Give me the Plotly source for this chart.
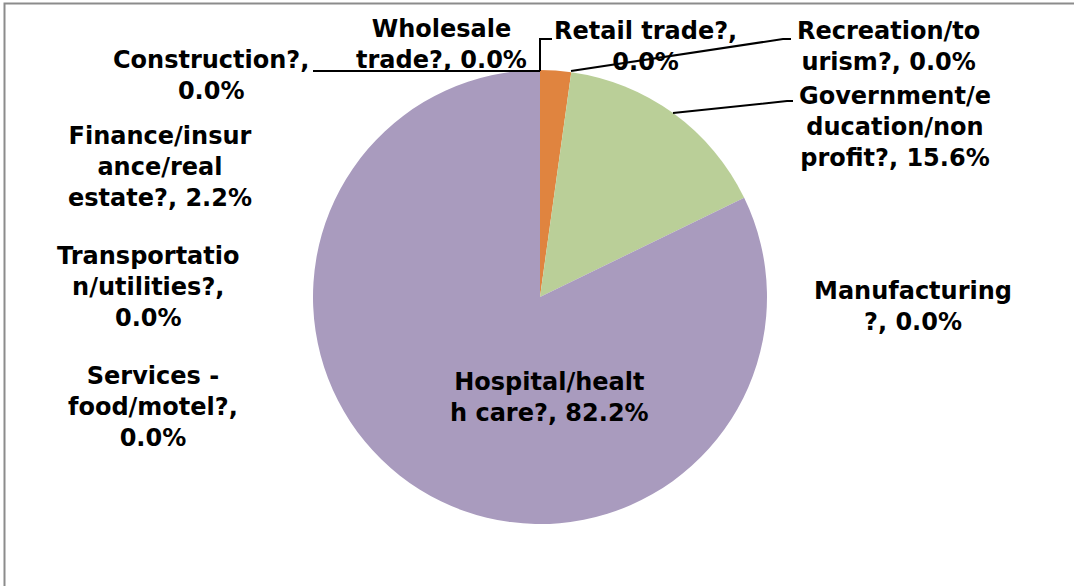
import plotly.graph_objects as go

W, H = 1074, 586

categories = [
    "Construction?", "Wholesale trade?", "Retail trade?",
    "Finance/insurance/real estate?", "Recreation/tourism?",
    "Government/education/non profit?", "Manufacturing?",
    "Hospital/health care?", "Services - food/motel?",
    "Transportation/utilities?",
]
values = [0.0, 0.0, 0.0, 2.2, 0.0, 15.6, 0.0, 82.2, 0.0, 0.0]
slice_colors = ["#4F81BD", "#C0504D", "#9BBB59", "#E0843F", "#4BACC6",
                "#BACF98", "#F79646", "#A99BBE", "#2C4D75", "#772C2A"]

# wrapped label text (as shown in the chart)
label_lines = [
    ["Construction?,", "0.0%"],
    ["Wholesale", "trade?, 0.0%"],
    ["Retail trade?,", "0.0%"],
    ["Finance/insur", "ance/real", "estate?, 2.2%"],
    ["Recreation/to", "urism?, 0.0%"],
    ["Government/e", "ducation/non", "profit?, 15.6%"],
    ["Manufacturing", "?, 0.0%"],
    ["Hospital/healt", "h care?, 82.2%"],
    ["Services -", "food/motel?,", "0.0%"],
    ["Transportatio", "n/utilities?,", "0.0%"],
]
# label block centres (pixels)
label_pos = [(211, 76), (441, 44), (645, 46), (160, 167), (888, 47),
             (895, 127), (913, 306), (549, 397), (153, 407), (148, 287)]

# leader lines (pixel polylines)
leaders = [
    [(313, 71), (540, 71)],
    [(540, 71), (540, 39), (552, 39)],
    [(571, 71), (783, 39), (791, 39)],
    [(673, 113), (787, 101), (793, 101)],
]


def px(x):
    return x / W


def py(y):
    return 1 - y / H


cx, cy, r = 540, 297, 227

fig = go.Figure(go.Pie(
    labels=categories, values=values, sort=False, direction="clockwise",
    rotation=0, textinfo="none", hoverinfo="label+percent",
    marker=dict(colors=slice_colors, line=dict(width=0)),
    domain=dict(x=[px(cx - r), px(cx + r)], y=[py(cy + r), py(cy - r)]),
    showlegend=False,
))

annotations = []
for lines, (x, y) in zip(label_lines, label_pos):
    annotations.append(dict(
        text="<br>".join(lines), x=px(x), y=py(y), xref="paper", yref="paper",
        xanchor="center", yanchor="middle", align="center", showarrow=False,
        font=dict(family="DejaVu Sans", size=24, color="#000000", weight="bold"),
    ))

shapes = []
for pts in leaders:
    path = "M " + " L ".join(f"{px(x)},{py(y)}" for x, y in pts)
    shapes.append(dict(type="path", path=path, xref="paper", yref="paper",
                       line=dict(color="#000000", width=2)))
# chart area border (top and left visible)
shapes.append(dict(type="path", xref="paper", yref="paper",
                   path=f"M {px(4.5)},{py(H)} L {px(4.5)},{py(3.5)} L {px(W)},{py(3.5)}",
                   line=dict(color="#8C8C8C", width=2)))

fig.update_layout(
    width=W, height=H, margin=dict(l=0, r=0, t=0, b=0),
    paper_bgcolor="#FFFFFF", plot_bgcolor="#FFFFFF",
    annotations=annotations, shapes=shapes,
)

fig.write_html("out.html", config={"displayModeBar": False},
               post_script="document.body.style.margin='0';document.body.style.overflow='hidden';")
